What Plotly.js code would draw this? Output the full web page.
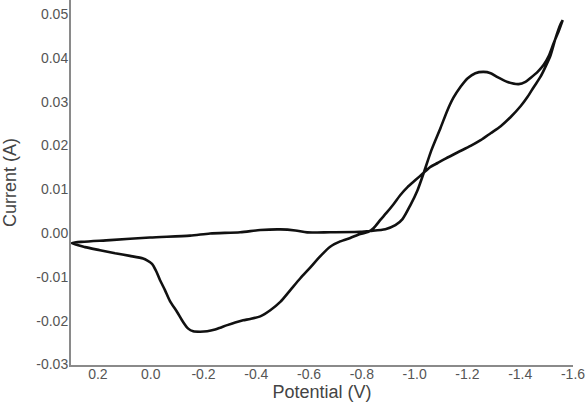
<!DOCTYPE html>
<html>
<head>
<meta charset="utf-8">
<script src="https://cdn.plot.ly/plotly-3.0.1.min.js"></script>
<style>html,body{margin:0;padding:0;background:#fff;}#chart{width:586px;height:404px;}</style>
</head>
<body>
<div id="chart"></div>
<script>
// Forward scan (0.3 V -> -1.56 V)
const forwardPotential = [0.30, 0.154, 0.003, -0.149, -0.225, -0.339, -0.415, -0.491, -0.548, -0.593, -0.680, -0.794, -0.832, -0.889, -0.927, -0.954, -0.984, -1.011, -1.033, -1.064, -1.098, -1.124, -1.147, -1.174, -1.200, -1.230, -1.261, -1.288, -1.314, -1.352, -1.394, -1.420, -1.439, -1.466, -1.489, -1.508, -1.527, -1.546, -1.561];
const forwardCurrent = [-0.0023, -0.0016, -0.0010, -0.00057, -0.0001, 0.0002, 0.0007, 0.00085, 0.0006, 0.00016, 0.0002, 0.0003, 0.0005, 0.0009, 0.0018, 0.0032, 0.0064, 0.0098, 0.0135, 0.0190, 0.0240, 0.0280, 0.0309, 0.0334, 0.0353, 0.0365, 0.0368, 0.0365, 0.0356, 0.0345, 0.0340, 0.0345, 0.0354, 0.0368, 0.0384, 0.0404, 0.0434, 0.0461, 0.0486];
// Reverse scan (-1.56 V -> 0.3 V)
const reversePotential = [-1.561, -1.553, -1.534, -1.515, -1.496, -1.477, -1.451, -1.428, -1.402, -1.364, -1.326, -1.288, -1.250, -1.212, -1.162, -1.117, -1.087, -1.060, -1.033, -1.003, -0.973, -0.946, -0.920, -0.893, -0.870, -0.844, -0.825, -0.794, -0.756, -0.718, -0.680, -0.642, -0.605, -0.567, -0.529, -0.491, -0.453, -0.415, -0.377, -0.350, -0.320, -0.290, -0.263, -0.244, -0.214, -0.187, -0.161, -0.142, -0.123, -0.100, -0.073, -0.054, -0.035, -0.020, -0.005, 0.014, 0.029, 0.079, 0.135, 0.192, 0.249, 0.30];
const reverseCurrent = [0.0486, 0.0477, 0.0445, 0.0406, 0.0380, 0.0357, 0.0333, 0.0311, 0.0290, 0.0265, 0.0244, 0.0228, 0.0212, 0.0199, 0.0184, 0.0170, 0.0160, 0.0151, 0.0137, 0.0121, 0.0105, 0.0087, 0.0066, 0.0046, 0.0030, 0.0011, 0.0003, -0.0002, -0.0011, -0.0019, -0.0031, -0.0053, -0.0078, -0.0103, -0.0130, -0.0157, -0.0176, -0.0190, -0.0196, -0.0199, -0.0204, -0.0210, -0.0216, -0.0220, -0.0224, -0.0225, -0.0224, -0.0218, -0.0203, -0.0180, -0.0155, -0.0130, -0.0107, -0.0086, -0.0070, -0.0062, -0.0058, -0.0052, -0.0046, -0.0039, -0.0032, -0.0023];

const xTickVals = [0.2, 0.0, -0.2, -0.4, -0.6, -0.8, -1.0, -1.2, -1.4, -1.6];
const xTickText = ["0.2", "0.0", "-0.2", "-0.4", "-0.6", "-0.8", "-1.0", "-1.2", "-1.4", "-1.6"];
const yTickVals = [-0.03, -0.02, -0.01, 0.00, 0.01, 0.02, 0.03, 0.04, 0.05];
const yTickText = ["-0.03", "-0.02", "-0.01", "0.00", "0.01", "0.02", "0.03", "0.04", "0.05"];

const x = forwardPotential.concat(reversePotential);
const y = forwardCurrent.concat(reverseCurrent);

const trace = {
  x: x, y: y, type: 'scatter', mode: 'lines',
  line: {color: '#111', width: 2.6, shape: 'spline', smoothing: 0.7},
  hoverinfo: 'skip'
};

const fam = 'Liberation Sans, Arial, sans-serif';

const layout = {
  width: 586, height: 404,
  margin: {l: 71, r: 13, t: 0, b: 39, pad: 0},
  paper_bgcolor: '#fff', plot_bgcolor: '#fff',
  showlegend: false,
  font: {family: fam, size: 14, color: '#555'},
  xaxis: {
    range: [0.302, -1.6],
    tickvals: xTickVals, ticktext: xTickText,
    ticks: '', showgrid: false, zeroline: false,
    showline: true, linecolor: '#8a8a8a', linewidth: 2,
    tickfont: {family: fam, size: 14, color: '#555'},
    ticklabelstandoff: -5,
    title: {text: 'Potential (V)', font: {family: fam, size: 18, color: '#444'}, standoff: 4},
    automargin: false
  },
  yaxis: {
    range: [-0.0301, 0.0532],
    tickvals: yTickVals, ticktext: yTickText,
    ticks: '', showgrid: false, zeroline: false,
    showline: true, linecolor: '#8a8a8a', linewidth: 2,
    tickfont: {family: fam, size: 14, color: '#555'},
    ticklabelstandoff: -2,
    title: {text: 'Current (A)', font: {family: fam, size: 18, color: '#444'}, standoff: 16},
    automargin: false
  }
};

Plotly.newPlot('chart', [trace], layout, {staticPlot: true, displayModeBar: false});
</script>
</body>
</html>
